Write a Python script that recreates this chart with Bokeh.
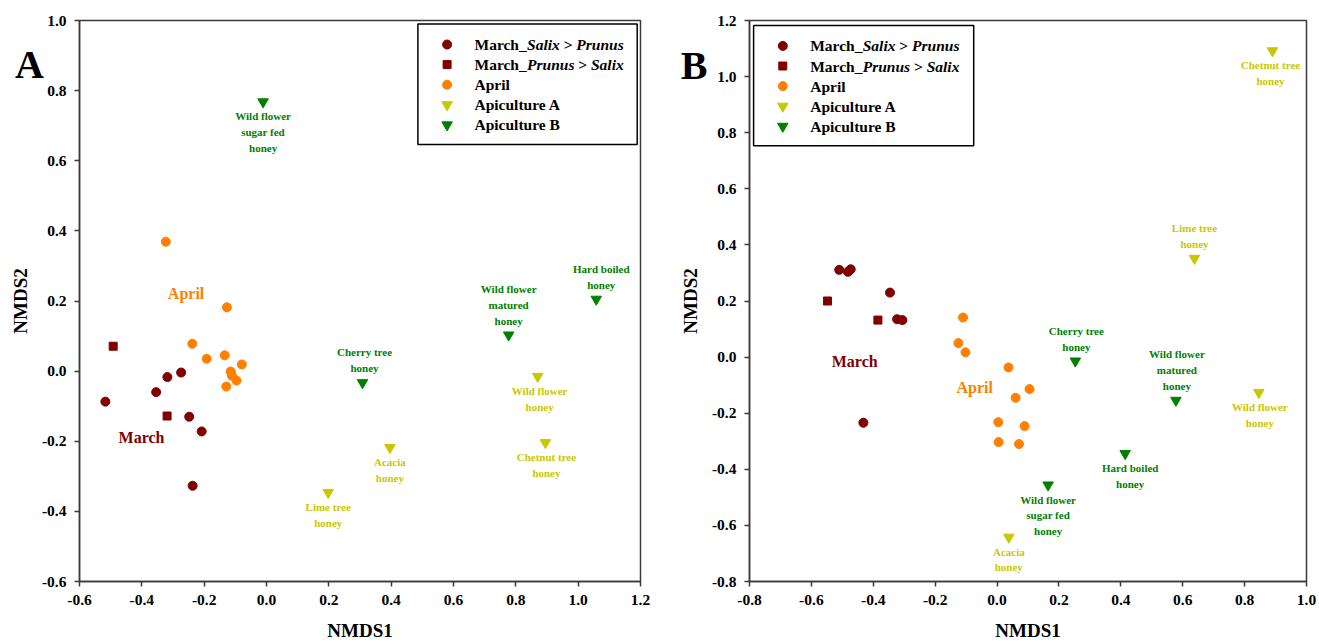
from bokeh.plotting import figure
from bokeh.layouts import row
from bokeh.models import FixedTicker, Range1d, PrintfTickFormatter
from bokeh.core.properties import value
from bokeh.embed import file_html
from bokeh.resources import INLINE

MAROON = "#800000"
ORANGE = "#FF8000"
OLIVE = "#C8C800"
GREEN = "#008000"
AXIS_COLOR = "#3a3a3a"
FONT = "Liberation Serif"

# ---------------- data: panel A ----------------
A_salix_x = [-0.517, -0.354, -0.318, -0.274, -0.248, -0.208, -0.237]
A_salix_y = [-0.087, -0.060, -0.017, -0.004, -0.130, -0.172, -0.327]
A_prunus_x = [-0.492, -0.319]
A_prunus_y = [0.071, -0.128]
A_april_x = [-0.323, -0.127, -0.238, -0.192, -0.134, -0.079, -0.115, -0.111, -0.096, -0.129]
A_april_y = [0.369, 0.182, 0.078, 0.035, 0.045, 0.019, -0.001, -0.013, -0.027, -0.044]
A_apiA_names = ["Wild flower\nhoney", "Chetnut tree\nhoney", "Acacia\nhoney", "Lime tree\nhoney"]
A_apiA_x = [0.870, 0.895, 0.396, 0.198]
A_apiA_y = [-0.015, -0.204, -0.218, -0.346]
A_apiB_names = ["Wild flower\nsugar fed\nhoney", "Cherry tree\nhoney",
                "Wild flower\nmatured\nhoney", "Hard boiled\nhoney"]
A_apiB_x = [-0.011, 0.308, 0.777, 1.058]
A_apiB_y = [0.768, -0.033, 0.103, 0.205]
A_group_names = ["March", "April"]
A_group_x = [-0.401, -0.258]
A_group_y = [-0.188, 0.222]
A_xticks = [-0.6, -0.4, -0.2, 0.0, 0.2, 0.4, 0.6, 0.8, 1.0, 1.2]
A_yticks = [-0.6, -0.4, -0.2, 0.0, 0.2, 0.4, 0.6, 0.8, 1.0]

# ---------------- data: panel B ----------------
B_salix_x = [-0.510, -0.482, -0.473, -0.346, -0.323, -0.306, -0.432]
B_salix_y = [0.311, 0.304, 0.313, 0.230, 0.135, 0.132, -0.234]
B_prunus_x = [-0.548, -0.385]
B_prunus_y = [0.200, 0.132]
B_april_x = [-0.110, -0.125, -0.102, 0.037, 0.105, 0.060, 0.004, 0.089, 0.005, 0.071]
B_april_y = [0.141, 0.050, 0.017, -0.037, -0.114, -0.145, -0.232, -0.246, -0.303, -0.310]
B_apiA_names = ["Chetnut tree\nhoney", "Lime tree\nhoney", "Wild flower\nhoney", "Acacia\nhoney"]
B_apiA_x = [0.890, 0.638, 0.846, 0.038]
B_apiA_y = [1.092, 0.352, -0.126, -0.642]
B_apiB_names = ["Cherry tree\nhoney", "Wild flower\nmatured\nhoney",
                "Hard boiled\nhoney", "Wild flower\nsugar fed\nhoney"]
B_apiB_x = [0.253, 0.578, 0.414, 0.165]
B_apiB_y = [-0.014, -0.154, -0.344, -0.456]
B_group_names = ["March", "April"]
B_group_x = [-0.460, -0.072]
B_group_y = [-0.014, -0.110]
B_xticks = [-0.8, -0.6, -0.4, -0.2, 0.0, 0.2, 0.4, 0.6, 0.8, 1.0]
B_yticks = [-0.8, -0.6, -0.4, -0.2, 0.0, 0.2, 0.4, 0.6, 0.8, 1.0, 1.2]

legend_rows = [
    [("March_", ""), ("Salix", "i"), (" > ", ""), ("Prunus", "i")],
    [("March_", ""), ("Prunus", "i"), (" > ", ""), ("Salix", "i")],
    [("April", "")],
    [("Apiculture A", "")],
    [("Apiculture B", "")],
]
legend_markers = [("circle", MAROON), ("square", MAROON), ("circle", ORANGE),
                  ("inverted_triangle", OLIVE), ("inverted_triangle", GREEN)]

# ---------------- layout / style (not data) ----------------
A_place_A = ["below", "below", "below", "below"]
A_place_B = ["below", "above", "above", "above"]
A_dx_A = [2, 1, 0, 0]
A_dx_B = [0, 2, 0, 5]
B_place_A = ["below", "above", "below", "below"]
B_place_B = ["above", "above", "below", "below"]
B_dx_A = [-2, 0, 1, 0]
B_dx_B = [1, 1, 5, 0]

# Times/Liberation Serif bold & bold-italic advance widths (per 1000 em)
TB = {'M': 944, 'a': 500, 'r': 444, 'c': 444, 'h': 556, '_': 500, '>': 570, 'S': 556,
      'l': 278, 'i': 278, 'x': 500, 'P': 611, 'u': 556, 'n': 556, 's': 389, 'A': 722,
      'p': 556, 't': 333, 'e': 444, 'B': 667, ' ': 250}
TBI = {'S': 556, 'a': 500, 'l': 278, 'i': 278, 'x': 500, 'P': 611, 'r': 389, 'u': 556,
       'n': 556, 's': 389, ' ': 250, '>': 570}


def text_width(s, italic, size):
    table = TBI if italic else TB
    return sum(table.get(c, 500) for c in s) * size / 1000.0


FRAME_H = 561
LINE_H = 15.7
LABEL_GAP = 14.5


class Frame:
    def __init__(self, xr, yr, w, h):
        self.xr, self.yr, self.w, self.h = xr, yr, w, h

    def x(self, dx):
        return self.xr[0] + dx / self.w * (self.xr[1] - self.xr[0])

    def y(self, dy):
        return self.yr[1] - dy / self.h * (self.yr[1] - self.yr[0])


def make_panel(letter, letter_pos, xr, yr, xticks, yticks, frame_w, bl, br,
               salix, prunus, april, apiA, apiB, groups, legend_pos):
    fr = Frame(xr, yr, frame_w, FRAME_H)
    p = figure(x_range=Range1d(*xr), y_range=Range1d(*yr),
               frame_width=frame_w, frame_height=FRAME_H,
               min_border_left=bl, min_border_right=br, min_border_top=20, min_border_bottom=62,
               output_backend="svg", toolbar_location=None, tools="")
    p.background_fill_color = "white"
    p.border_fill_color = "white"
    p.xgrid.visible = False
    p.ygrid.visible = False
    p.outline_line_color = AXIS_COLOR
    p.outline_line_width = 1.5
    p.outline_line_alpha = 1.0

    p.xaxis.ticker = FixedTicker(ticks=xticks)
    p.yaxis.ticker = FixedTicker(ticks=yticks)
    for ax in (p.xaxis[0], p.yaxis[0]):
        ax.formatter = PrintfTickFormatter(format="%.1f")
        ax.axis_line_color = AXIS_COLOR
        ax.axis_line_width = 1.5
        ax.major_tick_line_color = AXIS_COLOR
        ax.major_tick_line_width = 1.5
        ax.major_tick_in = 0
        ax.major_tick_out = 5
        ax.minor_tick_line_color = None
        ax.major_label_text_font = FONT
        ax.major_label_text_font_style = "bold"
        ax.major_label_text_font_size = "15.5px"
        ax.major_label_text_color = "black"
        ax.axis_label_text_font = FONT
        ax.axis_label_text_font_style = "bold"
        ax.axis_label_text_font_size = "19px"
        ax.axis_label_text_color = "black"
        ax.major_label_standoff = 8
    p.xaxis.axis_label = "NMDS1"
    p.yaxis.axis_label = "NMDS2"
    p.xaxis.axis_label_standoff = 12
    p.yaxis.axis_label_standoff = 8

    # points
    p.scatter(salix[0], salix[1], marker="circle", size=9, color=MAROON)
    p.scatter(prunus[0], prunus[1], marker="square", size=8, color=MAROON)
    p.scatter(april[0], april[1], marker="circle", size=9, color=ORANGE)
    for (xs, ys, names, place, dxs), col in ((apiA, OLIVE), (apiB, GREEN)):
        p.scatter(xs, ys, marker="inverted_triangle", size=10.5, color=col)
        tx, ty, tt, xo, yo = [], [], [], [], []
        for x, y, name, pl, dx in zip(xs, ys, names, place, dxs):
            lines = name.split("\n")
            n = len(lines)
            for i, ln in enumerate(lines):
                if pl == "below":
                    off = LABEL_GAP + i * LINE_H
                else:
                    off = -LABEL_GAP - (n - 1 - i) * LINE_H
                tx.append(x); ty.append(y); tt.append(ln); xo.append(dx); yo.append(off)
        p.text(x=tx, y=ty, text=tt, x_offset=xo, y_offset=yo,
               text_font=value(FONT), text_font_style="bold", text_font_size="11px",
               text_color=col, text_align="center", text_baseline="middle")

    # group labels
    p.text(x=groups[1], y=groups[2], text=groups[0],
           text_color=[MAROON, ORANGE], text_font=value(FONT), text_font_style="bold",
           text_font_size="16px", text_align="center", text_baseline="middle")

    # panel letter (overlay level so it is drawn outside the frame)
    p.text(x=[fr.x(letter_pos[0])], y=[fr.y(letter_pos[1])], text=[letter],
           text_font=value(FONT), text_font_style="bold", text_font_size="40px",
           text_color="black", text_align="center", text_baseline="alphabetic",
           level="overlay")

    # legend box
    lx, ly, lw, lh = legend_pos
    p.quad(left=[fr.x(lx)], right=[fr.x(lx + lw)], top=[fr.y(ly)], bottom=[fr.y(ly + lh)],
           fill_color="white", line_color="black", line_width=1.5)
    size_leg = 15.5
    for r, (segs, (mk, col)) in enumerate(zip(legend_rows, legend_markers)):
        ry = ly + 20.4 + r * 20.1
        msize = {"circle": 9, "square": 8, "inverted_triangle": 10.5}[mk]
        p.scatter([fr.x(lx + 29.2)], [fr.y(ry)], marker=mk, size=msize, color=col)
        cx = lx + 56.6
        for txt, st in segs:
            it = (st == "i")
            lead = len(txt) - len(txt.lstrip(" "))
            core = txt.strip(" ")
            px = cx + text_width(" " * lead, it, size_leg)
            p.text(x=[fr.x(px)], y=[fr.y(ry)], text=[core], text_font=value(FONT),
                   text_font_style="bold italic" if it else "bold", text_font_size="15.5px",
                   text_color="black", text_align="left", text_baseline="middle")
            cx += text_width(txt, it, size_leg)
    return p


pA = make_panel("A", (-50, 44.4), (-0.6, 1.2), (-0.6, 1.0), A_xticks, A_yticks, 561, 79, 32,
                (A_salix_x, A_salix_y), (A_prunus_x, A_prunus_y), (A_april_x, A_april_y),
                (A_apiA_x, A_apiA_y, A_apiA_names, A_place_A, A_dx_A),
                (A_apiB_x, A_apiB_y, A_apiB_names, A_place_B, A_dx_B),
                (A_group_names, A_group_x, A_group_y),
                (338.4, 3.6, 219.3, 120.5))
pB = make_panel("B", (-55.3, 45.2), (-0.8, 1.0), (-0.8, 1.2), B_xticks, B_yticks, 557, 77, 11,
                (B_salix_x, B_salix_y), (B_prunus_x, B_prunus_y), (B_april_x, B_april_y),
                (B_apiA_x, B_apiA_y, B_apiA_names, B_place_A, B_dx_A),
                (B_apiB_x, B_apiB_y, B_apiB_names, B_place_B, B_dx_B),
                (B_group_names, B_group_x, B_group_y),
                (4.1, 5.0, 220.1, 120.2))

layout = row(pA, pB)
open("out.html", "w").write(file_html(layout, INLINE))
